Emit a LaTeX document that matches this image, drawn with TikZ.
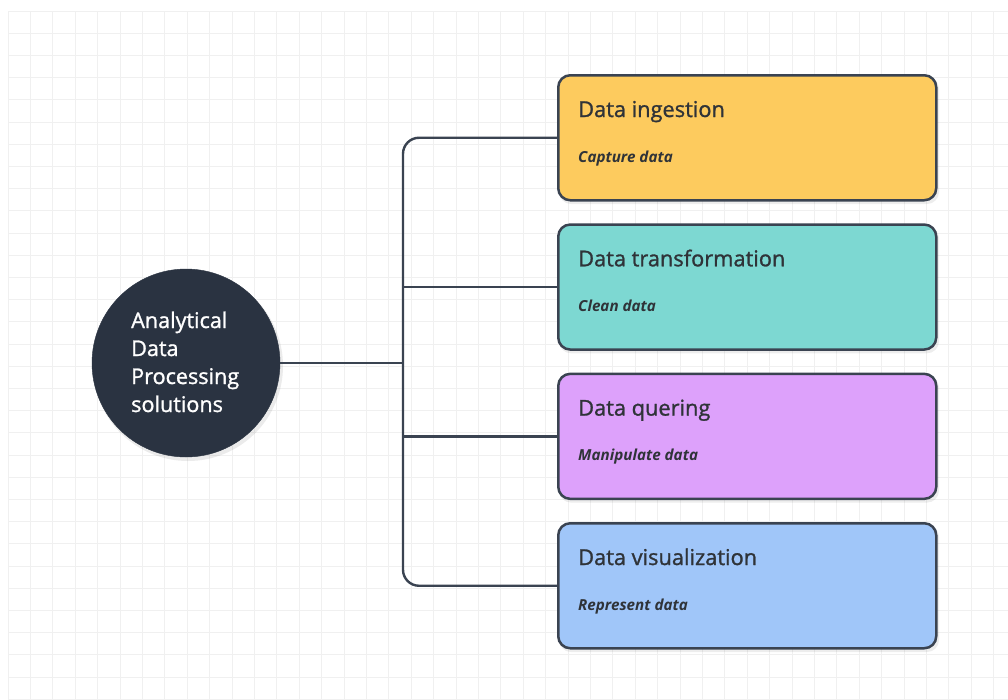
\documentclass[tikz,border=0pt]{standalone}
\usepackage{fontspec}
\setmainfont{Open Sans}
\newfontfamily\mediumface{Open Sans}[FakeBold=1.2]
\definecolor{gridc}{HTML}{F0F0F0}
\definecolor{edge}{HTML}{3A4351}
\definecolor{hubfill}{HTML}{2A3341}
\definecolor{ink}{HTML}{2F3338}
\definecolor{yellowfill}{HTML}{FDCB5E}
\definecolor{tealfill}{HTML}{7DD8D2}
\definecolor{purplefill}{HTML}{DDA1FB}
\definecolor{bluefill}{HTML}{A0C6F9}
\tikzset{
  gridline/.style={draw=gridc, line width=0.9pt},
  stagebox/.style={draw=edge, line width=2.5pt, rounded corners=12pt,
    minimum width=378pt, minimum height=125pt, inner sep=0pt, anchor=north west},
  boxshadow/.style={fill=black, opacity=0.07, rounded corners=12pt},
  link/.style={draw=edge, line width=2.4pt},
  stagetitle/.style={anchor=base west, inner sep=0pt, text=ink,
    font=\mediumface\fontsize{21.8}{24}\selectfont},
  stagenote/.style={anchor=base west, inner sep=0pt, text=ink,
    font=\fontsize{15.2}{17}\selectfont\bfseries\itshape},
  hubtext/.style={anchor=base west, inner sep=0pt, text=white,
    font=\mediumface\fontsize{21.6}{24}\selectfont},
}
\begin{document}
\begin{tikzpicture}[x=1pt,y=-1pt]
  \useasboundingbox (0,0) rectangle (1008,699);
  \fill[white] (0,0) rectangle (1008,699);
  % background grid
  \foreach \gx in {0,...,44} \draw[gridline] (8+22.4*\gx,11) -- (8+22.4*\gx,699);
  \foreach \gy in {0,...,31} \draw[gridline] (8,11+22.2*\gy) -- (1008,11+22.2*\gy);

  % central hub
  \fill[black, opacity=0.08] (188,366) circle (95);
  \node[circle, fill=hubfill, draw=hubfill, minimum size=188pt, inner sep=0pt] (hub) at (186,363) {};
  \foreach \line/\txt [count=\i] in {328/Analytical, 356/Data, 384/Processing, 412/solutions}
    \node[hubtext] (hubline\i) at (131,\line) {\txt};

  % stage boxes
  \foreach \name/\top/\col/\title/\note in {
      ingest/74/yellowfill/Data ingestion/Capture data,
      transform/223.3/tealfill/Data transformation/Clean data,
      query/372.6/purplefill/Data quering/Manipulate data,
      visual/522/bluefill/Data visualization/Represent data} {
    \fill[boxshadow] (559,\top+3) rectangle (939,\top+130);
    \node[stagebox, fill=\col] (\name) at (557,\top) {};
    \node[stagetitle] (\name-title) at (578,\top+43) {\title};
    \node[stagenote] (\name-note) at (578,\top+88) {\note};
  }

  % connectors
  \coordinate (trunk) at (403,363);
  \draw[link] (hub.east) -- (trunk);
  \draw[link, rounded corners=16pt] (ingest.west) -- (ingest.west -| trunk)
      -- (visual.west -| trunk) -- (visual.west);
  \draw[link] (transform.west -| trunk) -- (transform.west);
  \draw[link] (query.west -| trunk) -- (query.west);
\end{tikzpicture}
\end{document}
